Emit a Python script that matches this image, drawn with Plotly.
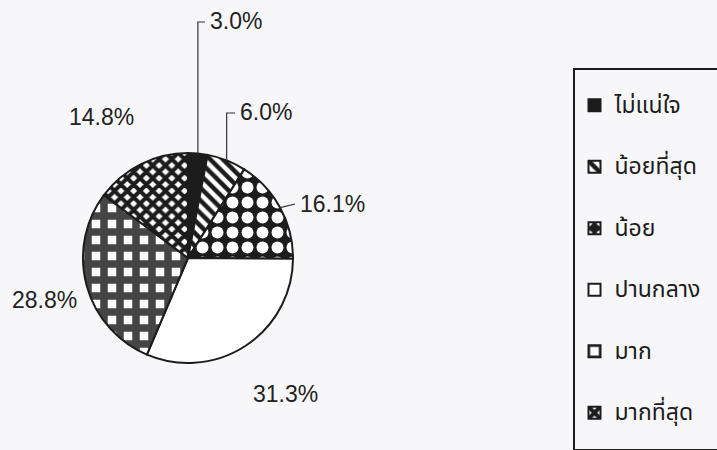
import math
import plotly.graph_objects as go

W, H = 717, 450

# survey answer categories and their shares (%)
categories = ["ไม่แน่ใจ", "น้อยที่สุด", "น้อย", "ปานกลาง", "มาก", "มากที่สุด"]
percent = [3.0, 6.0, 16.1, 31.3, 28.8, 14.8]

# slice fills (black & white hatching)
slice_color = ["#1c1c1c", "#ffffff", "#1c1c1c", "#ffffff", "#ffffff", "#ffffff"]
pattern_shape = ["", "\\", ".", "", "+", "x"]
pattern_fg = ["#1c1c1c", "#1c1c1c", "#ffffff", "#ffffff", "#454545", "#1c1c1c"]
pattern_bg = ["#1c1c1c", "#ffffff", "#1c1c1c", "#ffffff", "#ffffff", "#ffffff"]
pattern_size = [8, 9, 15, 8, 16, 9]
pattern_solidity = [0.5, 0.5, 0.5, 0.5, 0.72, 0.7]

# percentage label placement (pixel x, pixel y, anchor, leader line)
label_pos = [
    (208, 21, "left", "elbow"),
    (238, 112, "left", "elbow"),
    (298, 204, "left", "straight"),
    (285, 394, "center", None),
    (44, 300, "center", None),
    (101, 117, "center", None),
]

BG = "#f7f7f9"
INK = "#1c1c1c"
THAI = "Tahoma, 'Noto Sans Thai', 'Noto Sans Thai Looped', Garuda, Loma, Kinnari, sans-serif"
NUM_FONT = "'Liberation Sans', Arial, sans-serif"

# pie geometry in pixels
cx, cy, r = 188, 258, 105


def px(x):
    return x / W


def py(y):
    return 1 - y / H


legend_labels = [
    f'<span style="font-size:23px;baseline-shift:10px">{c}&nbsp;&nbsp;&nbsp;</span>'
    for c in categories
]

fig = go.Figure(
    go.Pie(
        labels=legend_labels,
        values=percent,
        sort=False,
        direction="clockwise",
        rotation=0,
        textinfo="none",
        hoverinfo="label+percent",
        domain=dict(x=[px(cx - r), px(cx + r)], y=[py(cy + r), py(cy - r)]),
        marker=dict(
            colors=slice_color,
            line=dict(color=INK, width=2),
            pattern=dict(
                shape=pattern_shape,
                fgcolor=pattern_fg,
                bgcolor=pattern_bg,
                size=pattern_size,
                solidity=pattern_solidity,
                fillmode="replace",
            ),
        ),
    )
)

# percentage labels with leader lines to the slice edge
total = sum(percent)
cum = 0.0
annotations, shapes = [], []
for v, (lx, ly, anchor, leader) in zip(percent, label_pos):
    mid = (cum + v / 2) / total * 2 * math.pi
    cum += v
    ex, ey = cx + r * math.sin(mid), cy - r * math.cos(mid)
    annotations.append(dict(
        x=px(lx), y=py(ly), xref="paper", yref="paper",
        xanchor=anchor, yanchor="middle", showarrow=False,
        text=f"{v:.1f}%",
        font=dict(family=NUM_FONT, size=23, color="#222222"),
    ))
    if leader == "elbow":
        path = f"M{px(ex)},{py(ey)} L{px(ex)},{py(ly + 1)} L{px(lx - 3)},{py(ly + 1)}"
    elif leader == "straight":
        path = f"M{px(ex)},{py(ey)} L{px(lx - 3)},{py(ly)}"
    else:
        continue
    shapes.append(dict(type="path", xref="paper", yref="paper", path=path,
                       line=dict(color="#333333", width=1.2)))

fig.update_layout(
    width=W,
    height=H,
    margin=dict(l=0, r=0, t=0, b=0, autoexpand=False),
    paper_bgcolor=BG,
    plot_bgcolor=BG,
    showlegend=True,
    legend=dict(
        x=px(573), y=py(68), xanchor="left", yanchor="top",
        bgcolor=BG, bordercolor=INK, borderwidth=1.5,
        font=dict(family=THAI, size=45, color=INK),
    ),
    annotations=annotations,
    shapes=shapes,
)

fig.write_html("out.html")
